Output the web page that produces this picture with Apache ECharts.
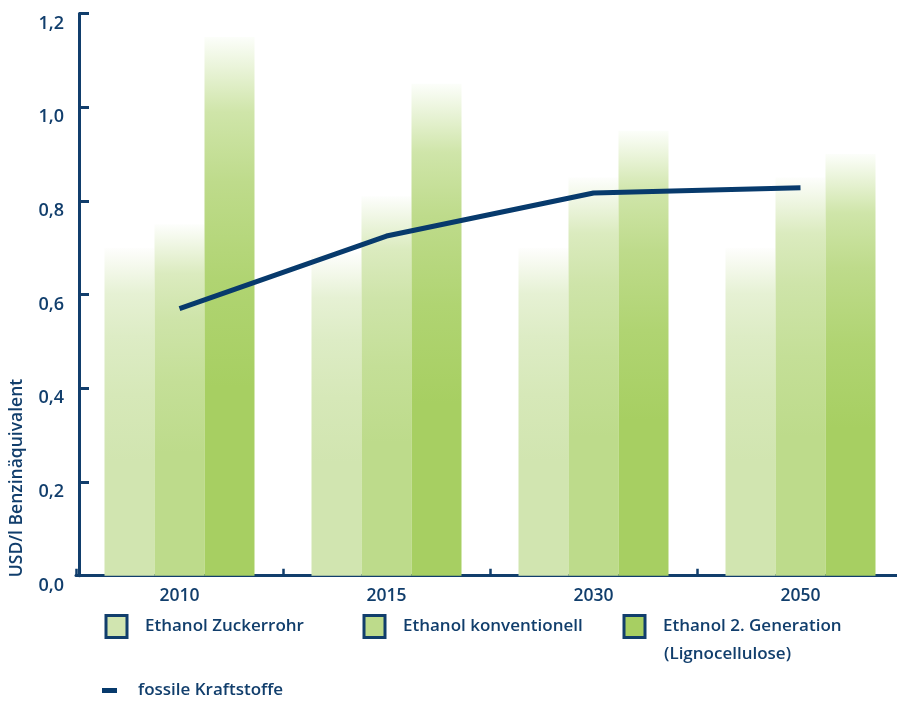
<!DOCTYPE html>
<html>
<head>
<meta charset="utf-8">
<script src="https://cdn.jsdelivr.net/npm/echarts@6/dist/echarts.min.js"></script>
<style>
  html, body { margin: 0; padding: 0; background: #ffffff; overflow: hidden; }
  /* the plot runs slightly past the right window edge */
  #chart { width: 910px; height: 701px; }
</style>
</head>
<body>
<div id="chart"></div>
<script>
// Kosten von Ethanol im Vergleich zu fossilen Kraftstoffen (USD/l Benzinäquivalent)
const years = ['2010', '2015', '2030', '2050'];
const zuckerrohr = [0.70, 0.69, 0.70, 0.70];
const konventionell = [0.75, 0.81, 0.85, 0.85];
const generation2 = [1.15, 1.05, 0.95, 0.90];
const fossil = [0.57, 0.725, 0.817, 0.828];

const seriesNames = [
  'Ethanol Zuckerrohr',
  'Ethanol konventionell',
  'Ethanol 2. Generation (Lignocellulose)',
  'fossile Kraftstoffe'
];
const gen2Lines = ['Ethanol 2. Generation', '(Lignocellulose)'];
const yAxisTitle = 'USD/l Benzinäquivalent';

const NAVY = '#113e6c';
const LINE = '#073a6c';
const C1 = '#d1e5b0';
const C2 = '#bddb8b';
const C3 = '#a7cf62';
const FONT = '"Open Sans", "Noto Sans", sans-serif';

// blend a colour with white; f = share of the colour
function mix(hex, f) {
  const n = parseInt(hex.slice(1), 16);
  const r = (n >> 16) & 255, g = (n >> 8) & 255, b = n & 255;
  const m = c => Math.round(255 * (1 - f) + c * f);
  return 'rgb(' + m(r) + ',' + m(g) + ',' + m(b) + ')';
}
// bars fade out towards white at their top
function fade(hex) {
  return {
    type: 'linear', x: 0, y: 0, x2: 0, y2: 1,
    colorStops: [
      { offset: 0, color: mix(hex, 0.03) },
      { offset: 0.14, color: mix(hex, 0.55) },
      { offset: 0.27, color: mix(hex, 0.74) },
      { offset: 0.45, color: mix(hex, 0.9) },
      { offset: 0.65, color: hex },
      { offset: 1, color: hex }
    ]
  };
}

const textBase = { color: NAVY, fontFamily: FONT, fontWeight: 600 };

function boxLegend(name, color, left, top, fmt) {
  return {
    data: [{ name: name, icon: 'rect', itemStyle: { color: color, borderColor: NAVY, borderWidth: 3 } }],
    left: left, top: top, padding: 0,
    itemWidth: 21, itemHeight: 22,
    selectedMode: false,
    formatter: fmt,
    textStyle: Object.assign({ fontSize: 17, lineHeight: 23, padding: [2, 0, 0, 13] }, textBase)
  };
}

const chart = echarts.init(document.getElementById('chart'), null, { renderer: 'canvas' });

chart.setOption({
  animation: false,
  backgroundColor: '#ffffff',
  grid: { left: 76, top: 13.5, width: 828, height: 562.2, containLabel: false },
  xAxis: {
    type: 'category',
    data: years,
    boundaryGap: true,
    axisLine: { show: true, lineStyle: { color: NAVY, width: 3 } },
    axisTick: { show: true, inside: true, length: 7, lineStyle: { color: NAVY, width: 2.5 } },
    axisLabel: Object.assign({ margin: 11, fontSize: 17.5 }, textBase),
    splitLine: { show: false }
  },
  yAxis: {
    type: 'value',
    min: 0, max: 1.2, interval: 0.2,
    offset: -3,
    axisLine: { show: true, lineStyle: { color: NAVY, width: 3 } },
    axisTick: { show: true, inside: true, length: 10, lineStyle: { color: NAVY, width: 3 } },
    axisLabel: Object.assign({
      margin: 15, fontSize: 18, lineHeight: 20, verticalAlign: 'top',
      formatter: v => v.toFixed(1).replace('.', ',')
    }, textBase),
    splitLine: { show: false }
  },
  legend: [
    boxLegend(seriesNames[0], C1, 104.5, 614),
    boxLegend(seriesNames[1], C2, 362.5, 614),
    boxLegend(seriesNames[2], C3, 622.5, 614, () => gen2Lines[0]),
    {
      data: [{ name: seriesNames[3], icon: 'rect', itemStyle: { color: LINE, borderWidth: 0 } }],
      left: 102, top: 678.5, padding: 0,
      itemWidth: 15, itemHeight: 5,
      selectedMode: false,
      textStyle: Object.assign({ fontSize: 17, lineHeight: 23, padding: [1, 0, 0, 16] }, textBase)
    }
  ],
  graphic: [
    {
      type: 'text',
      x: 17, y: 478,
      rotation: Math.PI / 2,
      style: {
        text: yAxisTitle, fontSize: 17.5, fontFamily: FONT, fontWeight: 600,
        textAlign: 'center', textVerticalAlign: 'middle', fill: NAVY
      }
    },
    {
      type: 'text',
      left: 664, top: 643,
      style: {
        text: gen2Lines[1], fontSize: 17, fontFamily: FONT, fontWeight: 600,
        lineHeight: 23, fill: NAVY
      }
    }
  ],
  series: [
    { name: seriesNames[0], type: 'bar', data: zuckerrohr, barWidth: 50, barGap: '0%',
      itemStyle: { color: fade(C1) } },
    { name: seriesNames[1], type: 'bar', data: konventionell, barWidth: 50, barGap: '0%',
      itemStyle: { color: fade(C2) } },
    { name: seriesNames[2], type: 'bar', data: generation2, barWidth: 50, barGap: '0%',
      itemStyle: { color: fade(C3) } },
    { name: seriesNames[3], type: 'line', data: fossil, symbol: 'none', z: 5,
      lineStyle: { color: LINE, width: 5, cap: 'butt' }, itemStyle: { color: LINE } }
  ]
});
</script>
</body>
</html>
